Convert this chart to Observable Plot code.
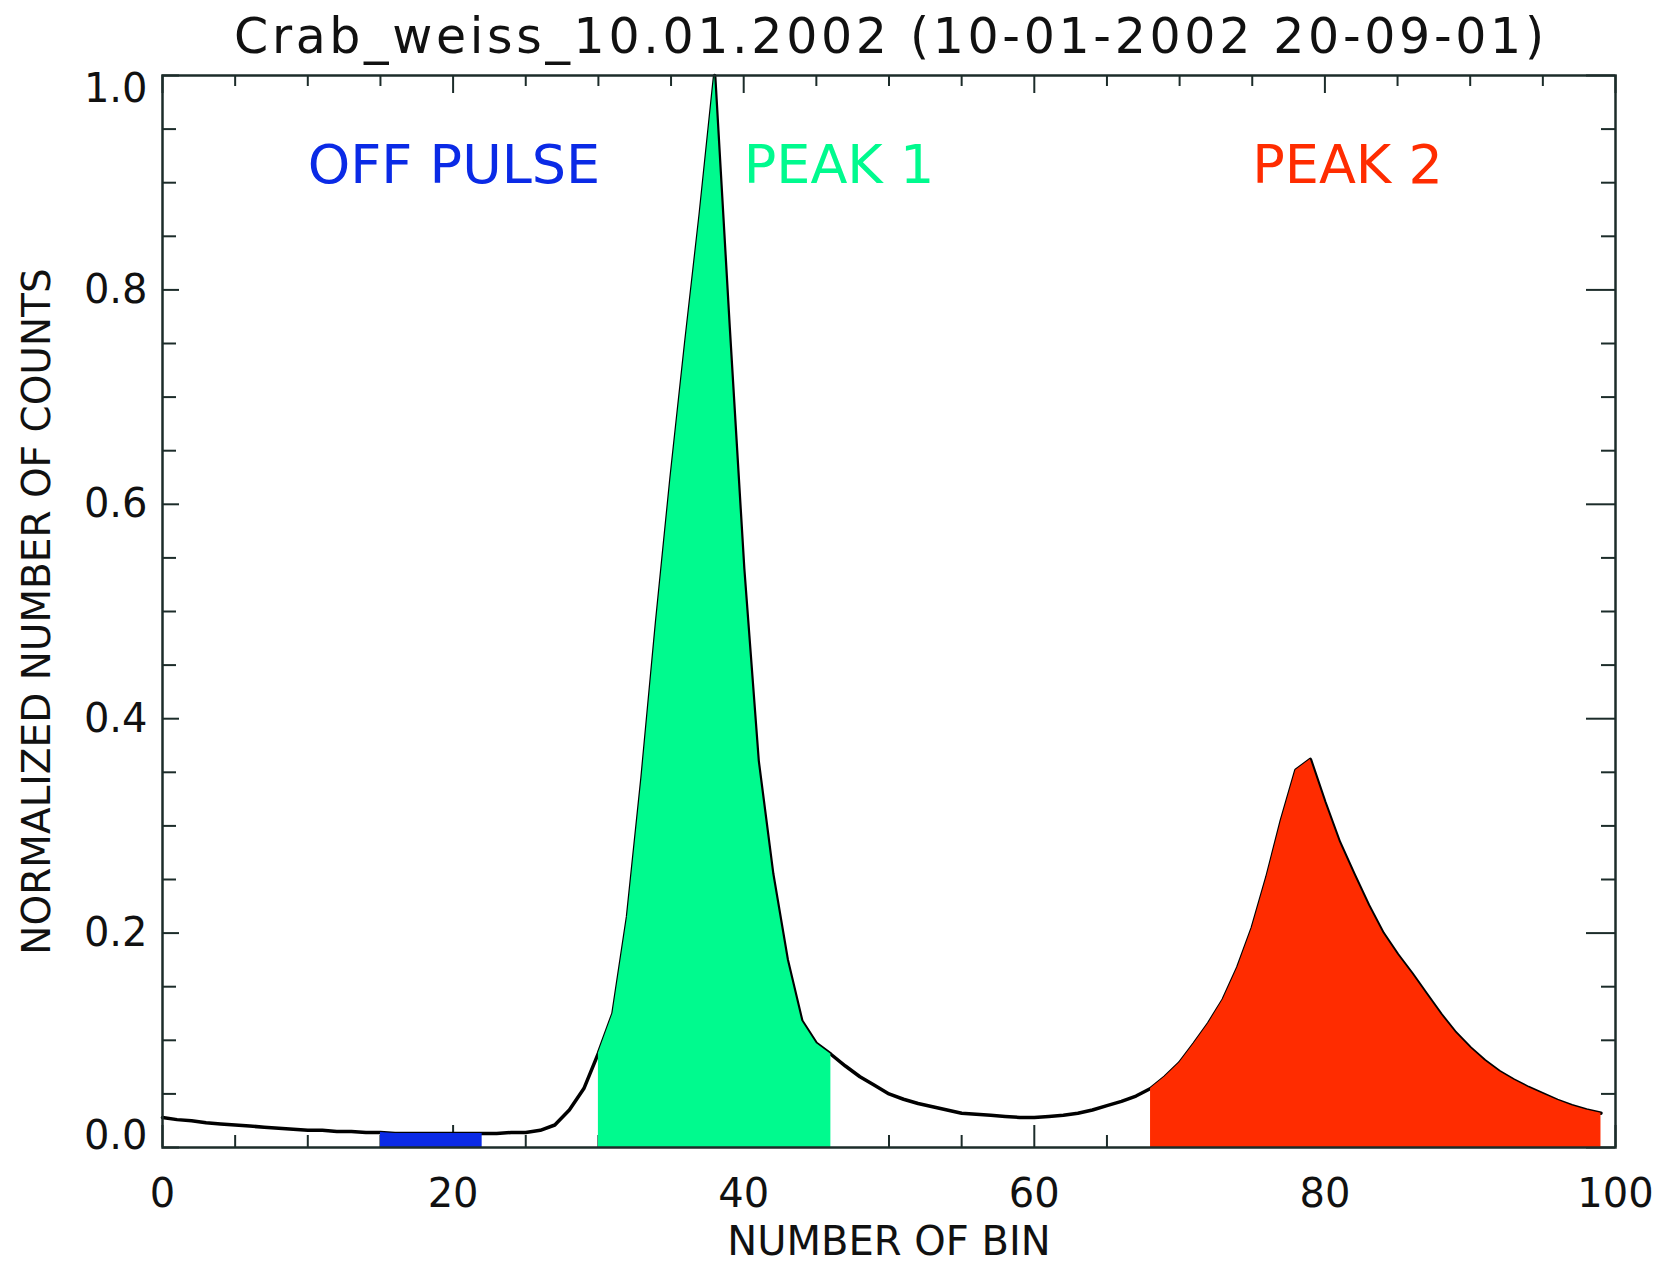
<!DOCTYPE html>
<html>
<head>
<meta charset="utf-8">
<script src="https://cdn.jsdelivr.net/npm/d3@7"></script>
<script src="https://cdn.jsdelivr.net/npm/@observablehq/plot@0.6"></script>
<style>
  body { margin: 0; background: #ffffff; }
  #chart svg { display: block; }
</style>
</head>
<body>
<div id="chart"></div>
<script>
// ---- data ----
const counts = [
  0.028, 0.026, 0.025, 0.023, 0.022, 0.021, 0.020, 0.019, 0.018, 0.017,
  0.016, 0.016, 0.015, 0.015, 0.014, 0.014, 0.013, 0.013, 0.013, 0.013,
  0.013, 0.013, 0.013, 0.013, 0.014, 0.014, 0.016, 0.021, 0.035, 0.055,
  0.088, 0.125, 0.215, 0.345, 0.490, 0.625, 0.750, 0.870, 1.000, 0.765,
  0.540, 0.360, 0.255, 0.175, 0.118, 0.097, 0.087, 0.076, 0.066, 0.058,
  0.050, 0.045, 0.041, 0.038, 0.035, 0.032, 0.031, 0.030, 0.029, 0.028,
  0.028, 0.029, 0.030, 0.032, 0.035, 0.039, 0.043, 0.048, 0.055, 0.066,
  0.079, 0.097, 0.116, 0.138, 0.168, 0.205, 0.252, 0.305, 0.352, 0.362,
  0.322, 0.285, 0.255, 0.226, 0.200, 0.180, 0.162, 0.143, 0.124, 0.107,
  0.093, 0.081, 0.071, 0.063, 0.056, 0.050, 0.044, 0.039, 0.035, 0.032
];
const regionNames = ["OFF PULSE", "PEAK 1", "PEAK 2"];
const regionFrom = [15, 30, 68];
const regionTo = [22, 46, 99];
const regionLabelBin = [10, 40, 75];
const regionLabelLevel = 0.9;
const xMajor = [0, 20, 40, 60, 80, 100];
const xMinor = [5, 10, 15, 25, 30, 35, 45, 50, 55, 65, 70, 75, 85, 90, 95];
const yMajor = [0.0, 0.2, 0.4, 0.6, 0.8, 1.0];
const yMinor = [0.05, 0.10, 0.15, 0.25, 0.30, 0.35, 0.45, 0.50, 0.55, 0.65, 0.70, 0.75, 0.85, 0.90, 0.95];
const titleText = "Crab_weiss_10.01.2002 (10-01-2002 20-09-01)";
const xTitle = "NUMBER OF BIN";
const yTitle = "NORMALIZED NUMBER OF COUNTS";

// ---- styles ----
const regionColors = ["#0a2ae6", "#00fa8e", "#ff2c00"];
const axisColor = "#1c2c2a";
const font = "DejaVu Sans";
const W = 1672, H = 1269;
const M = {top: 75, right: 57, bottom: 122, left: 162};
const PW = W - M.left - M.right, PH = H - M.top - M.bottom;
const titleWidth = 1310;

const bins = counts.map((_, i) => i);

const tickMarks = [
  // bottom
  Plot.tickX(xMinor, {x: d => d, stroke: axisColor, strokeWidth: 2, insetTop: PH - 12}),
  Plot.tickX(xMajor, {x: d => d, stroke: axisColor, strokeWidth: 2, insetTop: PH - 22}),
  // top
  Plot.tickX(xMinor, {x: d => d, stroke: axisColor, strokeWidth: 2, insetBottom: PH - 11}),
  Plot.tickX(xMajor, {x: d => d, stroke: axisColor, strokeWidth: 2, insetBottom: PH - 18}),
  // left
  Plot.tickY(yMinor, {y: d => d, stroke: axisColor, strokeWidth: 2, insetRight: PW - 14}),
  Plot.tickY(yMajor, {y: d => d, stroke: axisColor, strokeWidth: 2, insetRight: PW - 17}),
  // right
  Plot.tickY(yMinor, {y: d => d, stroke: axisColor, strokeWidth: 2, insetLeft: PW - 14}),
  Plot.tickY(yMajor, {y: d => d, stroke: axisColor, strokeWidth: 2, insetLeft: PW - 29})
];

const areaMarks = regionNames.map((name, i) =>
  Plot.areaY(bins.filter(b => b >= regionFrom[i] && b <= regionTo[i]), {
    x: d => d, y: d => counts[d], fill: regionColors[i]
  })
);

const labelMarks = regionNames.map((name, i) =>
  Plot.text([name], {
    x: regionLabelBin[i], y: regionLabelLevel, text: d => d,
    fill: regionColors[i], textAnchor: "start", lineAnchor: "bottom",
    fontSize: 54, fontFamily: font
  })
);

const midY = yMajor.slice(1, -1);
const tickFont = {fontSize: 40, fontFamily: font, fill: "#111"};
const yLabelMarks = [
  Plot.text(midY, {x: 0, y: d => d, text: d => d.toFixed(1), textAnchor: "end", dx: -15, ...tickFont}),
  Plot.text([yMajor[yMajor.length - 1]], {x: 0, y: d => d, text: d => d.toFixed(1), textAnchor: "end", dx: -15, dy: 14, ...tickFont}),
  Plot.text([yMajor[0]], {x: 0, y: d => d, text: d => d.toFixed(1), textAnchor: "end", dx: -15, dy: -11, ...tickFont})
];

const chart = Plot.plot({
  width: W, height: H,
  marginTop: M.top, marginRight: M.right, marginBottom: M.bottom, marginLeft: M.left,
  x: {domain: [0, 100], axis: null},
  y: {domain: [0, 1], axis: null},
  style: {background: "#ffffff", overflow: "visible"},
  marks: [
    ...tickMarks,
    Plot.line(bins, {x: d => d, y: d => counts[d], stroke: "#000", strokeWidth: 3.5}),
    ...areaMarks,
    Plot.frame({stroke: axisColor, strokeWidth: 2.5}),
    ...labelMarks,
    ...yLabelMarks,
    Plot.text(xMajor, {x: d => d, y: 0, dy: 47, text: d => String(d), ...tickFont}),
    Plot.text([xTitle], {frameAnchor: "bottom", textAnchor: "middle", lineAnchor: "middle", dy: 95, text: d => d,
      fontSize: 40, fontFamily: font, fill: "#111"}),
    Plot.text([yTitle], {frameAnchor: "left", textAnchor: "middle", lineAnchor: "middle", dx: -125, rotate: -90, text: d => d,
      fontSize: 39, fontFamily: font, fill: "#111"}),
    Plot.text([titleText], {frameAnchor: "top", textAnchor: "middle", lineAnchor: "middle", dy: -38, text: d => d,
      fontSize: 49, fontFamily: font, fill: "#111"})
  ]
});

document.getElementById("chart").appendChild(chart);
d3.select(chart).selectAll("text")
  .filter(function () { return this.textContent === titleText; })
  .attr("textLength", titleWidth)
  .attr("lengthAdjust", "spacing");
</script>
</body>
</html>
